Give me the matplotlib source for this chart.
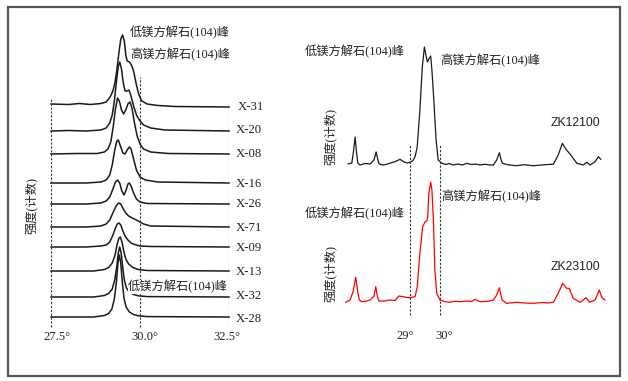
import matplotlib.pyplot as plt
from matplotlib.patches import Rectangle

# 字体：西文用 Liberation Serif，中文退到 Noto Sans CJK SC
plt.rcParams['font.family'] = ['Liberation Serif', 'Noto Sans CJK SC']

W, H = 628, 381  # 输出像素

# ---------------- 左图：各样品 (104) 峰，2θ 与相对强度 ----------------
samples = ['X-31', 'X-20', 'X-08', 'X-16', 'X-26', 'X-71', 'X-09', 'X-13', 'X-32', 'X-28']

x31_t = [27.5, 28.0, 28.3, 28.6, 28.9, 29.05, 29.16, 29.24, 29.3, 29.35, 29.41, 29.46, 29.51, 29.56,
         29.6, 29.64, 29.7, 29.76, 29.82, 29.9, 29.97, 30.05, 30.2, 30.5, 31.0, 32.5]
x31_i = [3, 2.5, 3.5, 2.5, 3.5, 5, 10, 16, 25, 37, 55, 68, 72, 66,
         52, 46, 45, 42, 36, 22, 12, 6, 3, 1.5, 0.5, 0]

x20_t = [27.5, 28.0, 28.5, 28.9, 29.05, 29.15, 29.22, 29.28, 29.34, 29.39, 29.43, 29.48, 29.53, 29.58,
         29.64, 29.69, 29.74, 29.82, 29.9, 30.0, 30.1, 30.3, 30.7, 32.5]
x20_i = [0, 0.5, 0, 1, 3, 8, 16, 30, 50, 65, 69, 62, 48, 40,
         40, 41, 36, 25, 16, 10, 6, 3, 1, 0]

x08_t = [27.5, 28.2, 28.8, 29.0, 29.1, 29.18, 29.25, 29.31, 29.37, 29.42, 29.48, 29.54, 29.6, 29.66,
         29.72, 29.78, 29.85, 29.92, 30.0, 30.1, 30.3, 30.8, 32.5]
x08_i = [0, 0.5, 0.5, 2, 5, 12, 28, 45, 56, 53, 44, 40, 44, 50,
         52, 45, 30, 18, 10, 5, 2, 0.5, 0]

x16_t = [27.5, 28.5, 28.9, 29.05, 29.15, 29.22, 29.29, 29.35, 29.39, 29.45, 29.52, 29.58, 29.64, 29.7,
         29.75, 29.82, 29.9, 30.0, 30.15, 30.5, 32.5]
x16_i = [0, 0, 1, 3, 8, 18, 33, 42, 43, 37, 30, 29, 33, 36,
         34, 24, 13, 6, 3, 1, 0]

x26_t = [27.5, 28.5, 28.9, 29.05, 29.15, 29.24, 29.31, 29.37, 29.43, 29.49, 29.55, 29.61, 29.66, 29.7,
         29.75, 29.82, 29.9, 30.0, 30.2, 32.5]
x26_i = [0, 0, 1, 3, 7, 15, 22, 24, 21, 13, 9, 14, 20, 21,
         18, 11, 5, 2, 0.5, 0]

x71_t = [27.5, 28.5, 28.9, 29.05, 29.15, 29.25, 29.33, 29.4, 29.46, 29.53, 29.6, 29.68, 29.78, 29.9,
         30.0, 30.1, 30.3, 32.5]
x71_i = [0, 0, 1, 3, 7, 15, 21, 24, 23, 18, 14, 11, 9, 7,
         5, 3, 1, 0]

x09_t = [27.5, 28.5, 28.9, 29.05, 29.15, 29.23, 29.3, 29.36, 29.41, 29.46, 29.52, 29.58, 29.66, 29.75,
         29.85, 30.0, 30.3, 32.5]
x09_i = [0, 0, 1, 2, 5, 11, 18, 23, 24, 22, 16, 11, 7, 4,
         2.5, 1, 0.5, 0]

x13_t = [27.5, 28.7, 29.0, 29.12, 29.22, 29.3, 29.36, 29.41, 29.45, 29.5, 29.55, 29.6, 29.68, 29.8,
         29.95, 30.2, 32.5]
x13_i = [0, 0, 1.5, 3.5, 8, 16, 27, 33, 34, 28, 19, 12, 7, 3.5, 1.5, 0.5, 0]

x32_t = [27.5, 28.7, 29.0, 29.12, 29.22, 29.29, 29.35, 29.39, 29.43, 29.47, 29.51, 29.56, 29.62, 29.7,
         29.82, 29.95, 30.2, 32.5]
x32_i = [0, 0, 1.5, 3.5, 8, 17, 31, 44, 50, 44, 31, 17, 9, 5, 2.5, 1.2, 0.4, 0]

x28_t = [27.5, 28.7, 29.0, 29.12, 29.21, 29.28, 29.34, 29.38, 29.42, 29.46, 29.5, 29.55, 29.61, 29.7,
         29.82, 29.95, 30.2, 32.5]
x28_i = [0, 0, 1.5, 3.5, 8, 18, 36, 54, 62, 54, 36, 19, 10, 5, 2.5, 1.2, 0.4, 0]

left_t = [x31_t, x20_t, x08_t, x16_t, x26_t, x71_t, x09_t, x13_t, x32_t, x28_t]
left_i = [x31_i, x20_i, x08_i, x16_i, x26_i, x71_i, x09_i, x13_i, x32_i, x28_i]

# ---------------- 右图：ZK12100 / ZK23100 全谱 ----------------
zk12100_t = [26.94, 27.06, 27.11, 27.17, 27.22, 27.26, 27.33, 27.5, 27.67, 27.8, 27.87, 27.93, 27.97,
             28.1, 28.22, 28.35, 28.5, 28.67, 28.78, 28.9, 29.0, 29.1, 29.17, 29.24, 29.33, 29.41,
             29.48, 29.53, 29.58, 29.63, 29.69, 29.73, 29.78, 29.87, 29.94, 30.06, 30.2, 30.3, 30.44,
             30.6, 30.75, 30.89, 31.05, 31.2, 31.33, 31.5, 31.65, 31.78, 31.89, 31.98, 32.03, 32.08,
             32.3, 32.56, 32.8, 33.11, 33.4, 33.6, 33.78, 33.94, 34.08, 34.15, 34.22, 34.36, 34.56,
             34.78, 34.89, 35.0, 35.17, 35.28, 35.36]
zk12100_i = [1, 2, 12, 28, 12, 2, 0, 1.5, 1, 5, 13, 5, 1,
             0, 0.7, 2, 3.3, 5.7, 3.3, 2, 2.7, 4.5, 8.3, 18, 55, 98,
             118, 110, 103, 106, 109, 95, 72, 25, 5, 1.7, 0.5, 1.5, 0,
             1, 0, 1.7, 0.5, 1, 0, 0.8, 0, 0, 5, 12.3, 6, 1.7,
             0, -0.7, 0.3, -0.7, 0, 0.5, 0.7, 10, 21.7, 18, 15, 10, 1.7,
             0, 2.7, 0, 3.3, 8.3, 5.7]

zk23100_t = [26.86, 27.0, 27.1, 27.19, 27.26, 27.31, 27.39, 27.55, 27.67, 27.8, 27.86, 27.91, 27.96,
             28.15, 28.33, 28.5, 28.63, 28.78, 28.9, 29.0, 29.17, 29.24, 29.33, 29.42, 29.5, 29.56,
             29.59, 29.63, 29.69, 29.73, 29.78, 29.83, 29.89, 30.0, 30.15, 30.33, 30.5, 30.67, 30.9,
             31.05, 31.17, 31.33, 31.5, 31.65, 31.78, 31.89, 31.98, 32.03, 32.07, 32.22, 32.56, 32.8,
             33.11, 33.4, 33.6, 33.78, 33.94, 34.09, 34.22, 34.31, 34.44, 34.67, 34.87, 34.98, 35.17,
             35.31, 35.4, 35.5]
zk23100_i = [-0.3, 2, 10, 24.7, 10, 2, 0.3, 1, 2, 6, 15.3, 6, 1,
             1, 2, 1.5, 6, 5.3, 4.5, 4.3, 5.3, 15, 48.7, 75, 80, 81,
             85, 109, 120, 112, 82, 32, 8.7, 2, 0.5, -0.3, 0.8, 0.3, 1,
             0.5, 2.7, 0.3, 0.5, 1, 2, 7, 14.3, 7, 2, -1.3, -0.3, -1,
             -1.3, -0.5, -1, -0.3, 8.7, 18.7, 13.7, 13.7, 3.7, -0.3, 4.3, -0.3, 2,
             12, 4.3, 2]

# ---------------- 画布 ----------------
fig = plt.figure(figsize=(W / 100, H / 100), dpi=100)

def ptext(x, y, s, **kw):
    # 按像素位置放文字
    kw.setdefault('va', 'center')
    kw.setdefault('color', '#222222')
    fig.text(x / W, 1 - y / H, s, **kw)

# 外框
fig.add_artist(Rectangle((8 / W, 1 - 376 / H), 612 / W, 369 / H, transform=fig.transFigure,
                         fill=False, edgecolor='#555555', linewidth=1.6))

# 左图
ax1 = fig.add_axes([51 / W, 36 / H, 178 / W, 325 / H])
ax1.set_xlim(27.5, 32.5)
ax1.set_ylim(36, 361)
ax1.axis('off')

base_px = [107, 131, 154, 183, 204, 227, 247, 271, 297, 317]  # 各谱线基线(像素)
for t, inten, b in zip(left_t, left_i, base_px):
    ax1.plot(t, [H - b + v for v in inten], color='#1a1a1a', lw=1.1, clip_on=False)

ax1.vlines([27.5, 32.5], H - 327, H - 98, colors='#333333', lw=0.8, linestyles=(0, (2, 1.5)))
ax1.vlines(30.0, H - 327, H - 77, colors='#333333', lw=0.8, linestyles=(0, (2, 1.5)))

label_y = [107, 130, 154, 184, 204, 228, 248, 272, 296, 319]
for s, y in zip(samples, label_y):
    ptext(238 if s == 'X-31' else 236, y, s, fontsize=9.2)

ptext(130, 33, '低镁方解石(104)峰', fontsize=8.8)
ptext(130, 55, '高镁方解石(104)峰', fontsize=8.8)
ptext(128, 287, '低镁方解石(104)峰', fontsize=8.8,
      bbox=dict(facecolor='white', edgecolor='none', pad=0.3))
ptext(31, 205, '强度(计数)', fontsize=8.8, rotation=90, ha='center')
for s, x in zip(['27.5°', '30.0°', '32.5°'], [57, 145, 227]):
    ptext(x, 337, s, fontsize=9, ha='center')

# 右图
ax2 = fig.add_axes([340 / W, 36 / H, 270 / W, 325 / H])
ax2.set_xlim(26.6667, 35.6667)
ax2.set_ylim(36, 361)
ax2.axis('off')

ax2.plot(zk12100_t, [H - 165 + v for v in zk12100_i], color='#1a1a1a', lw=0.9)
ax2.plot(zk23100_t, [H - 302 + v for v in zk23100_i], color='red', lw=0.9)
ax2.vlines([29, 30], H - 315, H - 144, colors='#333333', lw=0.8, linestyles=(0, (2, 1.5)))

ptext(305, 52, '低镁方解石(104)峰', fontsize=8.8)
ptext(440, 61, '高镁方解石(104)峰', fontsize=8.8)
ptext(551, 123, 'ZK12100', fontsize=8.8, family='Liberation Sans')
ptext(330, 137, '强度(计数)', fontsize=8.8, rotation=90, ha='center')

ptext(441, 197, '高镁方解石(104)峰', fontsize=8.8)
ptext(305, 214, '低镁方解石(104)峰', fontsize=8.8)
ptext(551, 267, 'ZK23100', fontsize=8.8, family='Liberation Sans')
ptext(330, 273, '强度(计数)', fontsize=8.8, rotation=90, ha='center')

ptext(405, 336, '29°', fontsize=9, ha='center')
ptext(444, 336, '30°', fontsize=9, ha='center')

fig.savefig('out.png', dpi=100, facecolor='white')
